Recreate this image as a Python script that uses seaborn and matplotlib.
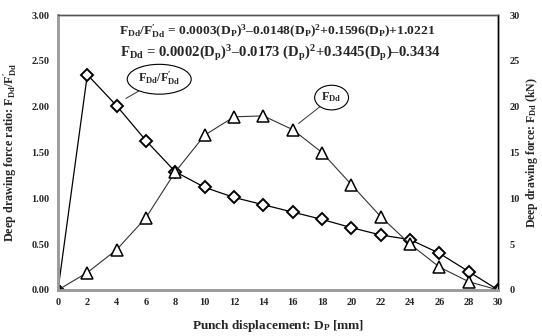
import matplotlib
matplotlib.use('Agg')
import matplotlib.pyplot as plt
import seaborn as sns
import pandas as pd

# Data
displacement = [0, 2, 4, 6, 8, 10, 12, 14, 16, 18, 20, 22, 24, 26, 28, 30]
force_ratio = [0.0, 2.35, 2.01, 1.63, 1.29, 1.12, 1.01, 0.93, 0.85, 0.77,
               0.68, 0.60, 0.55, 0.40, 0.20, 0.0]
drawing_force = [0.0, 1.9, 4.4, 7.9, 12.9, 16.9, 18.9, 19.0, 17.5, 15.0,
                 11.5, 8.0, 5.0, 2.5, 0.9, 0.0]
ratio_ticks = [0.0, 0.5, 1.0, 1.5, 2.0, 2.5, 3.0]
force_ticks = [0, 5, 10, 15, 20, 25, 30]
x_ticks = list(range(0, 31, 2))

df = pd.DataFrame({'Dp': displacement, 'ratio': force_ratio, 'force': drawing_force})

sns.set_style('white')
plt.rcParams['font.family'] = ['Liberation Serif', 'DejaVu Serif']
plt.rcParams['font.weight'] = 'bold'
plt.rcParams['mathtext.fontset'] = 'custom'
plt.rcParams['mathtext.rm'] = 'Liberation Serif:bold'
plt.rcParams['mathtext.it'] = 'Liberation Serif:bold'
plt.rcParams['mathtext.bf'] = 'Liberation Serif:bold'

fig = plt.figure(figsize=(5.42, 3.36), dpi=100)
ax = fig.add_axes([0.107, 0.137, 0.812, 0.818])
ax2 = ax.twinx()

sns.lineplot(data=df, x='Dp', y='ratio', ax=ax, color='black', lw=0.9,
             marker='D', markersize=6, markerfacecolor='white',
             markeredgecolor='black', markeredgewidth=1.4)
sns.lineplot(data=df, x='Dp', y='force', ax=ax2, color='#333333', lw=0.8,
             marker='^', markersize=8, markerfacecolor='white',
             markeredgecolor='black', markeredgewidth=1.1)

ax.set_xlim(0, 30)
ax.set_ylim(0, 3)
ax2.set_ylim(0, 30)
ax.set_xticks(x_ticks)
ax.set_xticklabels([str(t) for t in x_ticks])
ax.set_yticks(ratio_ticks)
ax.set_yticklabels(['{:.2f}'.format(t) for t in ratio_ticks])
ax2.set_yticks(force_ticks)
ax2.set_yticklabels([str(t) for t in force_ticks])
ax.tick_params(axis='x', labelsize=7.5, length=0, pad=6)
ax.tick_params(axis='y', labelsize=7.5, length=0, pad=6)
ax2.tick_params(axis='y', labelsize=7.5, length=0, pad=8)
for a in (ax, ax2):
    for lab in a.get_xticklabels() + a.get_yticklabels():
        lab.set_fontweight('bold')

for a in (ax, ax2):
    a.spines['left'].set_color('#9a9a9a')
    a.spines['left'].set_linewidth(1.8)
    a.spines['bottom'].set_color('#9a9a9a')
    a.spines['bottom'].set_linewidth(1.8)
    a.spines['top'].set_color('#555555')
    a.spines['top'].set_linewidth(1.0)
    a.spines['right'].set_color('black')
    a.spines['right'].set_linewidth(1.0)

ax.set_xlabel(r'Punch displacement: D$_{\rm P}$ [mm]', fontsize=9.5, fontweight='bold', labelpad=8)
ax.set_ylabel(r"Deep drawing force ratio: F$_{\rm Dd}$/F$^{\prime}_{\rm Dd}$", fontsize=8.7,
              fontweight='bold', labelpad=8)
ax2.set_ylabel(r'Deep drawing force: F$_{\rm Dd}$ (kN)', fontsize=8.5, fontweight='bold', labelpad=3)

eq1 = r"F$_{\rm Dd}$/F$^{\prime}_{\rm Dd}$ = 0.0003(D$_{\rm P}$)$^3$–0.0148(D$_{\rm P}$)$^2$+0.1596(D$_{\rm P}$)+1.0221"
eq2 = r"F$_{\rm Dd}$ = 0.0002(D$_{\rm p}$)$^3$–0.0173 (D$_{\rm p}$)$^2$+0.3445(D$_{\rm p}$)–0.3434"
ax.text(0.498, 0.94, eq1, transform=ax.transAxes, ha='center', va='center', fontsize=9.7, fontweight='bold')
ax.text(0.505, 0.862, eq2, transform=ax.transAxes, ha='center', va='center', fontsize=10.6, fontweight='bold')

ax2.annotate(r"F$_{\rm Dd}$/F$^{\prime}_{\rm Dd}$", xy=(4.3, 20.6), xytext=(6.9, 23.0),
             ha='center', va='center', fontsize=8.7, fontweight='bold',
             bbox=dict(boxstyle='ellipse,pad=0.12', fc='white', ec='black', lw=0.8),
             arrowprops=dict(arrowstyle='-', lw=0.7, color='#333333', shrinkA=0, shrinkB=4))
ax2.annotate(r"F$_{\rm Dd}$", xy=(16.1, 17.8), xytext=(18.65, 21.0),
             ha='center', va='center', fontsize=8.7, fontweight='bold',
             bbox=dict(boxstyle='ellipse,pad=0.15', fc='white', ec='black', lw=0.8),
             arrowprops=dict(arrowstyle='-', lw=0.7, color='#333333', shrinkA=0, shrinkB=4))

fig.savefig('out.png', dpi=100)
